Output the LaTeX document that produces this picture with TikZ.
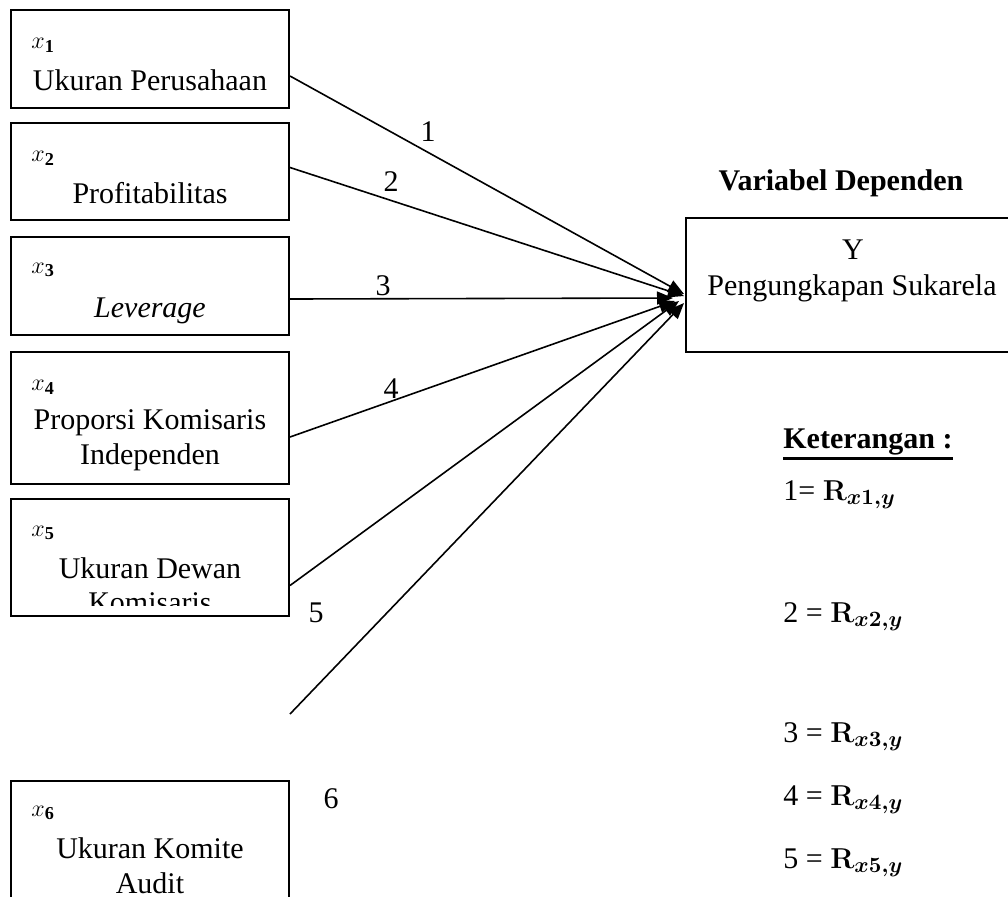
\documentclass[tikz,border=0pt]{standalone}
\usepackage{fontspec}
\setmainfont{Liberation Serif}
\usetikzlibrary{arrows.meta,calc}
\newcommand{\bw}{139pt}
\tikzset{
  box/.style={draw,line width=1pt,minimum width=\bw,inner sep=0pt},
  txt/.style={font=\fontsize{15}{17.5}\selectfont,inner sep=0pt,align=center},
  var/.style={font=\fontsize{13}{13}\selectfont,inner sep=0pt,anchor=west},
  link/.style={line width=0.8pt,-{Triangle[length=8pt,width=6.5pt]}}
}
\begin{document}
\begin{tikzpicture}[x=0.5pt,y=-0.5pt]
\clip (0,0) rectangle (1008,896);
% independent variables
\node[box,minimum height=49pt] (b1) at (150,59) {};
\node[box,minimum height=48.5pt] (b2) at (150,171.5) {};
\node[box,minimum height=49pt] (b3) at (150,286) {};
\node[box,minimum height=66pt] (b4) at (150,418) {};
\node[box,minimum height=58.5pt] (b5) at (150,557.5) {};
\node[box,minimum height=70pt] (b6) at (150,851) {};
\foreach \i/\yy in {1/45,2/158,3/270,4/387,5/533,6/813}{
\node[var] (x\i) at (31,\yy) {$x_{\mathbf{\i}}$};
}
\node[txt] (t1) at (150,80) {Ukuran Perusahaan};
\node[txt] (t2) at (150,193) {Profitabilitas};
\node[txt] (t3) at (150,311) {\itshape Leverage};
\node[txt] (t4) at (150,440) {Proporsi Komisaris\\Independen};
\node[txt] (t5) at (150,568) {Ukuran Dewan};
\begin{scope}
\clip (11,499) rectangle (289,605);
\node[txt] (t5b) at (150,603) {Komisaris};
\end{scope}
\node[txt] (t6) at (150,866) {Ukuran Komite\\Audit};
% dependent variable
\node[txt,font=\fontsize{15}{17.5}\selectfont\bfseries] (head) at (841,183) {Variabel Dependen};
\node[box,minimum width=167pt,minimum height=67pt] (dep) at (853,285) {};
\node[txt] (ty) at (853,250) {Y};
\node[txt] (tdep) at (852,288) {Pengungkapan Sukarela};
% arrows
\coordinate (tip) at ($(dep.west)+(-1,11)$);
\coordinate (s6) at (290,714);
\foreach \b/\dy/\ex/\ey in {b1/17/0/-2,b2/-4/0/0,b3/13/-11/2,b4/19/-9/5,b5/28/-5/5}{
\draw[link] ($(\b.east)+(0,\dy)$) -- ($(tip)+(\ex,\ey)$);
}
\draw[link] (s6) -- ($(tip)+(0,7)$);
\node[txt] (n1) at (428,132) {1};
\node[txt] (n2) at (391,182) {2};
\node[txt] (n3) at (383,286) {3};
\node[txt] (n4) at (391,389) {4};
\node[txt] (n5) at (316,613) {5};
\node[txt] (n6) at (331,799) {6};
% legend
\node[txt,anchor=west] (ket) at (783,442) {\textbf{Keterangan :}};
\draw[line width=1.5pt] ($(ket.south west)+(0,3)$) -- ($(ket.south east)+(0,3)$);
\node[txt,anchor=west] (k1) at (783,495) {1= {\boldmath$\mathbf{R}_{x1,y}$}};
\foreach \i/\yy in {2/617,3/737,4/800,5/863}{
\node[txt,anchor=west] (k\i) at (783,\yy) {\i\ = {\boldmath$\mathbf{R}_{x\i,y}$}};
}
\end{tikzpicture}
\end{document}
